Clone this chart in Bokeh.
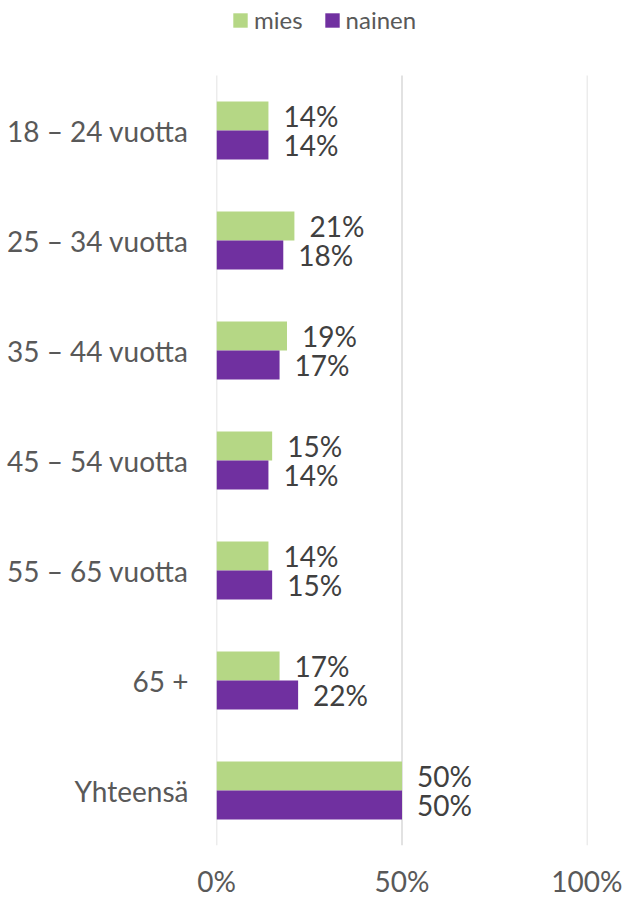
from bokeh.plotting import figure
from bokeh.models import (Range1d, FixedTicker, Legend, LegendItem,
                          ColumnDataSource)
from bokeh.transform import dodge
from bokeh.core.properties import value
from bokeh.embed import file_html
from bokeh.resources import INLINE

# ---- data ----
categories = ["18 – 24 vuotta", "25 – 34 vuotta", "35 – 44 vuotta",
              "45 – 54 vuotta", "55 – 65 vuotta", "65 +", "Yhteensä"]
mies = [14, 21, 19, 15, 14, 17, 50]
nainen = [14, 18, 17, 14, 15, 22, 50]
series_names = ["mies", "nainen"]
x_ticks = [0, 50, 100]
x_tick_labels = ["0%", "50%", "100%"]

GREEN = "#B5D785"
PURPLE = "#7030A0"
FONT = "Lato"

n = len(categories)
ypos = list(range(n))  # 0 = top category

src = ColumnDataSource(dict(
    y=ypos,
    mies=mies,
    nainen=nainen,
    mies_lbl=[f"{v}%" for v in mies],
    nainen_lbl=[f"{v}%" for v in nainen],
))

BAND_PX = 110          # pixel height of one category band
TOP_PX = 75            # room above the bars for the legend
p = figure(
    frame_width=371, frame_height=BAND_PX * n + TOP_PX,
    # flipped numeric range: first category at the top
    y_range=Range1d(start=n - 0.5, end=-0.5 - TOP_PX / BAND_PX),
    x_range=Range1d(0, 100),
    output_backend="svg", toolbar_location=None,
    min_border_left=216, min_border_right=35,
    min_border_top=0, min_border_bottom=52,
)
p.outline_line_color = None
p.background_fill_color = "white"
p.border_fill_color = "white"
p.xgrid.visible = False
p.ygrid.visible = False

BAR_H = 0.264
OFF = BAR_H / 2

# vertical gridlines across the category area only
p.segment(x0=x_ticks, x1=x_ticks, y0=[n - 0.5] * len(x_ticks),
          y1=[-0.5] * len(x_ticks), line_color="#D9D9D9", line_width=1.5)

r_m = p.hbar(y=dodge("y", -OFF), left=0, right="mies",
             height=BAR_H, source=src, fill_color=GREEN, line_color=None)
r_n = p.hbar(y=dodge("y", OFF), left=0, right="nainen",
             height=BAR_H, source=src, fill_color=PURPLE, line_color=None)

for col, off in (("mies", -OFF), ("nainen", OFF)):
    p.text(x=col, y=dodge("y", off), text=col + "_lbl",
           source=src, x_offset=15, text_baseline="middle", text_align="left",
           text_font=value(FONT), text_font_size="28px", text_color="#404040")

# x axis
xa = p.xaxis[0]
xa.ticker = FixedTicker(ticks=x_ticks)
xa.major_label_overrides = {t: l for t, l in zip(x_ticks, x_tick_labels)}
xa.axis_line_color = None
xa.major_tick_line_color = None
xa.minor_tick_line_color = None
xa.major_tick_out = 0
xa.major_tick_in = 0
xa.major_label_standoff = 18
xa.major_label_text_font = FONT
xa.major_label_text_font_size = "28px"
xa.major_label_text_color = "#595959"

# y axis (category labels)
ya = p.yaxis[0]
ya.ticker = FixedTicker(ticks=ypos)
ya.major_label_overrides = {i: c for i, c in zip(ypos, categories)}
ya.axis_line_color = None
ya.major_tick_line_color = None
ya.minor_tick_line_color = None
ya.major_tick_out = 0
ya.major_tick_in = 0
ya.major_label_standoff = 28
ya.major_label_text_font = FONT
ya.major_label_text_font_size = "28px"
ya.major_label_text_color = "#595959"

# legend
legend = Legend(
    items=[LegendItem(label=series_names[0], renderers=[r_m]),
           LegendItem(label=series_names[1], renderers=[r_n])],
    orientation="horizontal",
    location=(15, BAND_PX * n + TOP_PX - 34),
    glyph_width=18, glyph_height=18, label_height=18,
    label_standoff=5, spacing=20, padding=0, margin=0,
    border_line_color=None, background_fill_alpha=0,
    label_text_font=FONT, label_text_font_size="24px",
    label_text_color="#595959",
)
p.add_layout(legend, "center")

open("out.html", "w").write(file_html(p, INLINE))
